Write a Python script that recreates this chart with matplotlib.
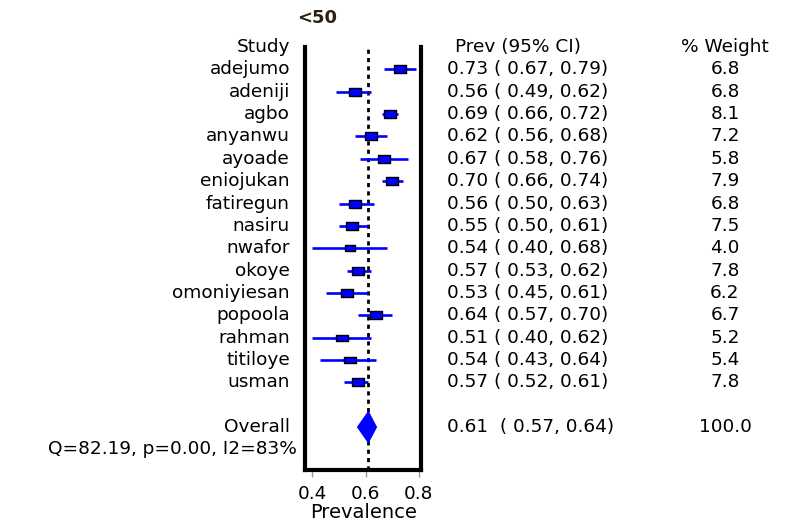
import numpy as np
import matplotlib
matplotlib.use("Agg")
import matplotlib.pyplot as plt
from matplotlib.patches import Polygon

# =============================================================================
# Data
# =============================================================================
studies = ["adejumo", "adeniji", "agbo", "anyanwu", "ayoade", "eniojukan",
           "fatiregun", "nasiru", "nwafor", "okoye", "omoniyiesan", "popoola",
           "rahman", "titiloye", "usman"]
prev = [0.73, 0.56, 0.69, 0.62, 0.67, 0.70, 0.56, 0.55, 0.54, 0.57, 0.53,
        0.64, 0.51, 0.54, 0.57]
lower = [0.67, 0.49, 0.66, 0.56, 0.58, 0.66, 0.50, 0.50, 0.40, 0.53, 0.45,
         0.57, 0.40, 0.43, 0.52]
upper = [0.79, 0.62, 0.72, 0.68, 0.76, 0.74, 0.63, 0.61, 0.68, 0.62, 0.61,
         0.70, 0.62, 0.64, 0.61]
weight = [6.8, 6.8, 8.1, 7.2, 5.8, 7.9, 6.8, 7.5, 4.0, 7.8, 6.2, 6.7, 5.2,
          5.4, 7.8]

overall_es = 0.61
overall_lo = 0.57
overall_hi = 0.64
overall_w = 100.0
het_text = "Q=82.19, p=0.00, I2=83%"
title = "<50"
xticks = [0.4, 0.6, 0.8]

# =============================================================================
# Layout
# =============================================================================
W, H = 796, 527
fig = plt.figure(figsize=(W / 100, H / 100), dpi=100)
ax_l, ax_r, ax_t, ax_b = 305.3, 421.0, 47.0, 470.0
ax = fig.add_axes([ax_l / W, 1 - ax_b / H, (ax_r - ax_l) / W, (ax_b - ax_t) / H])

row_px = 22.36
n = len(studies)
y_study = np.arange(1, n + 1)
y_overall = n + 2
y_het = n + 3

ax.set_xlim(0.373, 0.808)
ax.set_ylim((ax_b - ax_t) / row_px, 0)

# the original font is wide; a slightly large size gets the widths closer
font = dict(family="DejaVu Sans", fontsize=13.3, color="black")

# null line at overall estimate
ax.axvline(overall_es, color="black", lw=2, ls=(0, (1.5, 1.5)), zorder=1)

# CI lines and boxes
box = [(-1, -0.62), (1, -0.62), (1, 0.62), (-1, 0.62), (-1, -0.62)]
for y, p, lo, hi, w in zip(y_study, prev, lower, upper, weight):
    ax.plot([lo, hi], [y, y], color="#0000ff", lw=1.9, zorder=2,
            solid_capstyle="butt")
    ax.plot(p, y, marker=box, ms=6.5 + 0.3 * w, mfc="#0000ff", mec="black",
            mew=1.0, zorder=3)

# overall diamond
dh = 0.68
ax.add_patch(Polygon([(overall_lo, y_overall), (overall_es, y_overall - dh),
                      (overall_hi, y_overall), (overall_es, y_overall + dh)],
                     closed=True, color="#0000ff", zorder=3))

# frame
for s in ["left", "right", "bottom"]:
    ax.spines[s].set_linewidth(3)
    ax.spines[s].set_color("black")
ax.spines["top"].set_visible(False)
ax.set_yticks([])
ax.set_xticks(xticks)
ax.set_xticklabels([f"{t:.1f}" for t in xticks], **font)
ax.tick_params(axis="x", direction="out", length=5, width=1, color="#999999",
               pad=6)
ax.set_xlabel("Prevalence", labelpad=0, **dict(font, fontsize=14))

# text columns
tr = ax.get_yaxis_transform()
x_name = (290 - ax_l) / (ax_r - ax_l)
x_het = (297 - ax_l) / (ax_r - ax_l)
x_ci = (447 - ax_l) / (ax_r - ax_l)
x_hdr = (455 - ax_l) / (ax_r - ax_l)
x_w = (725 - ax_l) / (ax_r - ax_l)

ax.text(x_name, 0, "Study", transform=tr, ha="right", va="center", **font)
ax.text(x_hdr, 0, "Prev (95% CI)", transform=tr, ha="left", va="center", **font)
ax.text(x_w, 0, "% Weight", transform=tr, ha="center", va="center", **font)

for y, name, p, lo, hi, w in zip(y_study, studies, prev, lower, upper, weight):
    ax.text(x_name, y, name, transform=tr, ha="right", va="center", **font)
    ax.text(x_ci, y, f"{p:.2f} ( {lo:.2f}, {hi:.2f})", transform=tr,
            ha="left", va="center", **font)
    ax.text(x_w, y, f"{w:.1f}", transform=tr, ha="center", va="center", **font)

ax.text(x_name, y_overall, "Overall", transform=tr, ha="right", va="center",
        **font)
ax.text(x_ci, y_overall,
        f"{overall_es:.2f}  ( {overall_lo:.2f}, {overall_hi:.2f})",
        transform=tr, ha="left", va="center", **font)
ax.text(x_w, y_overall, f"{overall_w:.1f}", transform=tr, ha="center",
        va="center", **font)
ax.text(x_het, y_het, het_text, transform=tr, ha="right", va="center", **font)

fig.text(317 / W, 1 - 18 / H, title, ha="center", va="center",
         family="DejaVu Sans", fontsize=13, fontweight="bold", color="#2a2010")

fig.savefig("out.png", dpi=100)
